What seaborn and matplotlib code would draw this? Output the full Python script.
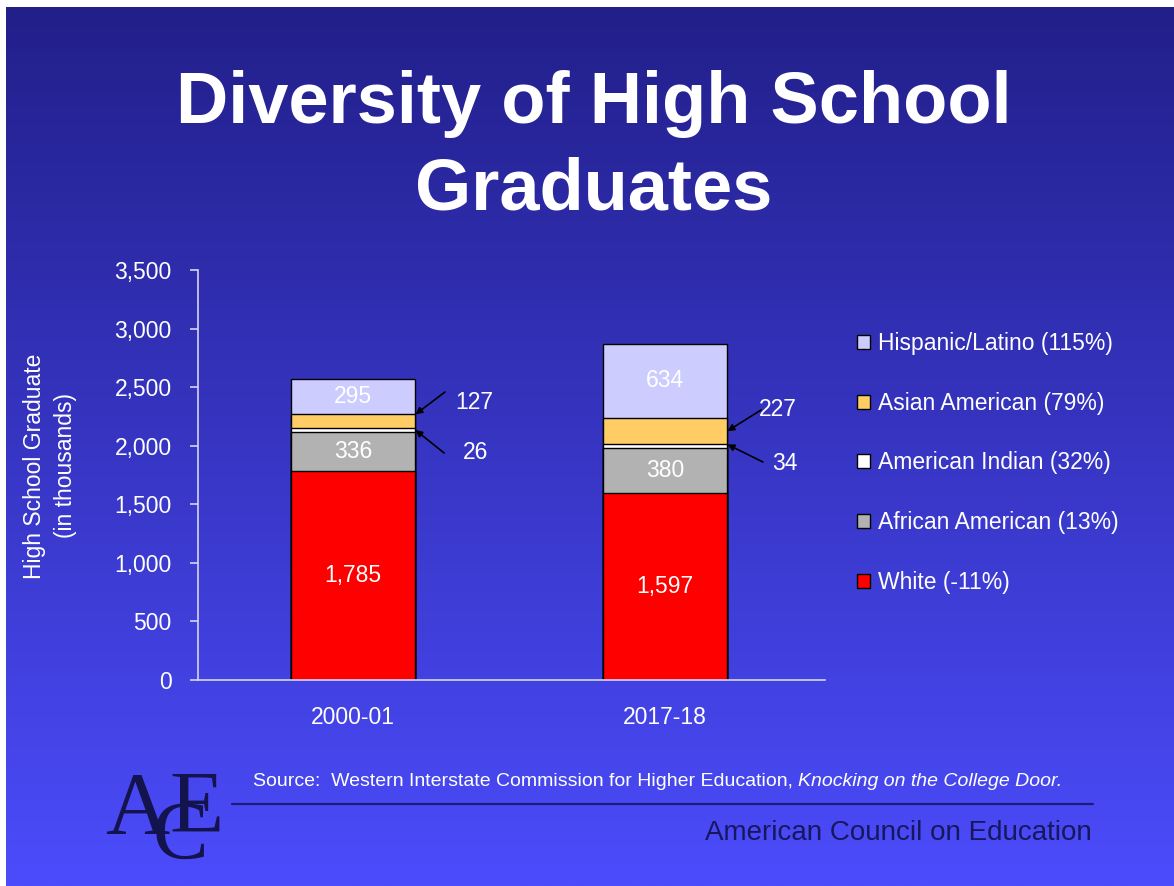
import numpy as np
import pandas as pd
import matplotlib
matplotlib.use("Agg")
import matplotlib.pyplot as plt
from matplotlib.patches import Patch
from matplotlib.lines import Line2D
from matplotlib.ticker import FuncFormatter
import seaborn as sns

# ---- data (thousands of high school graduates) ----
years = ["2000-01", "2017-18"]
groups = ["White", "African American", "American Indian", "Asian American", "Hispanic/Latino"]
group_changes = ["-11%", "13%", "32%", "79%", "115%"]
white = [1785, 1597]
african_american = [336, 380]
american_indian = [26, 34]
asian_american = [127, 227]
hispanic_latino = [295, 634]
y_ticks = [0, 500, 1000, 1500, 2000, 2500, 3000, 3500]

colors = ["#ff0000", "#b2b2b2", "#ffffff", "#ffcc66", "#ccccff"]

sns.set_theme(style="white")
plt.rcParams["font.family"] = ["Liberation Sans", "DejaVu Sans"]

W, H = 1174, 886
FS = 16.5
fig = plt.figure(figsize=(W / 100, H / 100), dpi=100)
fig.patch.set_facecolor("white")


def fx(px):
    return px / W


def fy(py):
    return 1 - py / H


# ---- slide background: vertical blue gradient ----
bg = fig.add_axes([fx(6), 0, 1 - fx(6), fy(7)], zorder=-10)
top_rgb = np.array([0x22, 0x1f, 0x8a]) / 255
bot_rgb = np.array([0x4c, 0x4c, 0xfc]) / 255
t = np.linspace(0, 1, 400)[:, None]
grad = top_rgb[None, :] * (1 - t) + bot_rgb[None, :] * t
bg.imshow(grad[:, None, :], aspect="auto", extent=[0, 1, 0, 1], interpolation="bilinear")
bg.set_axis_off()

# ---- chart ----
ax = fig.add_axes([fx(198), fy(680), fx(825) - fx(198), fy(270) - fy(680)])
ax.patch.set_alpha(0)

layers = np.array([white, african_american, american_indian, asian_american, hispanic_latino])
cum = np.cumsum(layers, axis=0)

# stacked bars: draw cumulative totals from the top layer down
for k in reversed(range(len(groups))):
    df = pd.DataFrame({"year": years, "total": cum[k]})
    sns.barplot(data=df, x="year", y="total", color=colors[k], saturation=1,
                edgecolor="black", linewidth=1, width=0.4, ax=ax, zorder=2)

ax.set_xlim(-0.497, 1.513)
ax.set_ylim(0, 3500)
ax.set_yticks(y_ticks)
ax.yaxis.set_major_formatter(FuncFormatter(lambda v, p: f"{v:,.0f}"))
ax.set_xlabel("")
ax.set_ylabel("")
for s in ["top", "right"]:
    ax.spines[s].set_visible(False)
axis_col = "#d4d4f2"
ax.spines["left"].set_color(axis_col)
ax.spines["bottom"].set_color(axis_col)
ax.spines["left"].set_linewidth(1.2)
ax.spines["bottom"].set_linewidth(1.2)
ax.tick_params(axis="y", which="major", left=True, length=6, width=1.2,
               color=axis_col, labelcolor="white", labelsize=FS, pad=13)
ax.tick_params(axis="x", length=0, labelcolor="white", labelsize=FS, pad=19)

# values printed inside the larger segments
for i in range(len(years)):
    for k in (0, 1, 4):
        mid = cum[k][i] - layers[k][i] / 2
        ax.text(i, mid, f"{layers[k][i]:,}", ha="center", va="center",
                color="white", fontsize=FS, zorder=3)

# small segments labelled outside with arrows
# (bar index, layer, head position within segment 0..1, text xy, arrow tail xy)
callouts = [
    (0, 3, 0.95, (0.388, 2365), (0.295, 2459)),
    (0, 2, 0.50, (0.394, 1946), (0.292, 1938)),
    (1, 3, 0.50, (1.362, 2305), (1.308, 2305)),
    (1, 2, 1.00, (1.385, 1852), (1.314, 1861)),
]
for i, k, frac, txy, tail in callouts:
    base = cum[k][i] - layers[k][i]
    head = (i + 0.2, base + frac * layers[k][i])
    ax.annotate("", xy=head, xytext=tail,
                arrowprops=dict(arrowstyle="-|>", color="black", lw=1.2,
                                mutation_scale=10, shrinkA=0, shrinkB=0), zorder=4)
    ax.text(txy[0], txy[1], f"{layers[k][i]:,}", ha="center", va="center",
            color="white", fontsize=FS, zorder=4)

# legend, top layer first
handles = [Patch(facecolor=colors[k], edgecolor="black", linewidth=1) for k in reversed(range(len(groups)))]
labels = [f"{groups[k]} ({group_changes[k]})" for k in reversed(range(len(groups)))]
fig.legend(handles, labels, loc="upper left", bbox_to_anchor=(fx(848), fy(323)),
           frameon=False, fontsize=FS, labelcolor="white", handlelength=0.55,
           handleheight=0.55, handletextpad=0.35, labelspacing=1.6, borderaxespad=0)

# axis title
fig.text(fx(50), fy(466), "High School Graduate\n(in thousands)", rotation=90,
         ha="center", va="center", multialignment="center", color="white",
         fontsize=FS, linespacing=1.4)

# slide title
fig.text(fx(594), fy(123), "Diversity of High School", ha="center", va="baseline",
         color="white", fontsize=52, fontweight="bold")
fig.text(fx(594), fy(210), "Graduates", ha="center", va="baseline",
         color="white", fontsize=52, fontweight="bold")

# source line
src = fig.text(fx(253), fy(782), "Source:  Western Interstate Commission for Higher Education, ",
               ha="left", va="center", color="white", fontsize=14)
fig.canvas.draw()
bb = src.get_window_extent(renderer=fig.canvas.get_renderer())
fig.text(bb.x1 / W, fy(782), "Knocking on the College Door.", ha="left", va="center",
         color="white", fontsize=14, style="italic")

# footer rule and organisation name
fig.add_artist(Line2D([fx(232), fx(1093)], [fy(804), fy(804)], color="#1c1c78", lw=1.6))
fig.text(fx(1092), fy(833), "American Council on Education", ha="right", va="center",
         color="#17175e", fontsize=20)

# ACE monogram
navy = "#13134e"
fig.text(fx(137), fy(833), "A", ha="center", va="baseline", color=navy, fontsize=64, family="Liberation Serif")
fig.text(fx(197), fy(832), "E", ha="center", va="baseline", color=navy, fontsize=64, family="Liberation Serif")
fig.text(fx(180), fy(858), "C", ha="center", va="baseline", color=navy, fontsize=60, family="Liberation Serif")

fig.savefig("out.png", dpi=100)
